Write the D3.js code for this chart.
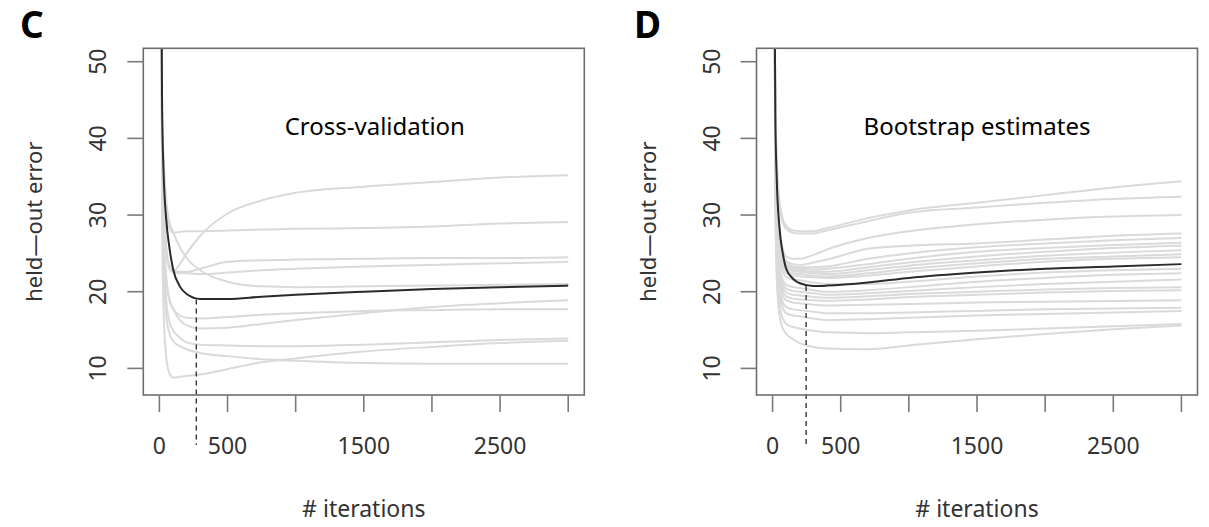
<!DOCTYPE html>
<html>
<head>
<meta charset="utf-8">
<script src="https://cdn.jsdelivr.net/npm/d3@7.9.0/dist/d3.min.js"></script>
<style>
  body { margin: 0; background: #fff; }
  svg { display: block; }
  text { font-family: "Noto Sans", sans-serif; }
</style>
</head>
<body>
<svg id="chart" width="1209" height="527"></svg>
<script>
const cvIter = [12, 20, 30, 50, 75, 100, 150, 200, 300, 500, 750, 1000, 1500, 2000, 2500, 3000];
const bsIter = [12, 20, 30, 50, 75, 100, 150, 200, 300, 400, 700, 1000, 1500, 2000, 2500, 3000];

// panel C: mean CV error (black) and the 10 folds (gray)
const cvMean = [70, 44, 36, 29.5, 25.6, 23.0, 20.7, 19.7, 19.05, 19.05, 19.35, 19.6, 20.0, 20.35, 20.6, 20.8];
const cvFolds = [
  [70, 40, 33, 26, 23.3, 22.7, 23.6, 25.0, 27.3, 30.2, 31.9, 32.9, 33.7, 34.3, 34.9, 35.2],
  [70, 42, 36, 30, 28.3, 27.7, 27.8, 27.9, 27.9, 28.0, 28.1, 28.2, 28.3, 28.5, 28.9, 29.1],
  [70, 40, 32, 25.5, 23.3, 22.7, 22.6, 22.6, 23.0, 23.9, 24.1, 24.2, 24.3, 24.4, 24.4, 24.5],
  [70, 40, 31, 25, 23, 22.5, 22.4, 22.4, 22.3, 22.5, 22.8, 23.0, 23.3, 23.5, 23.7, 23.9],
  [70, 44, 38, 32, 29, 27.8, 25.8, 24.4, 22.8, 21.3, 20.7, 20.6, 20.7, 20.8, 20.9, 21.0],
  [70, 38, 29, 22, 19, 17.8, 16.3, 15.6, 15.2, 15.3, 15.8, 16.3, 17.2, 18.0, 18.5, 18.9],
  [70, 38, 28, 21.5, 18.8, 17.8, 16.9, 16.6, 16.5, 16.7, 17.0, 17.2, 17.5, 17.6, 17.7, 17.7],
  [70, 36, 26, 19, 16, 15.0, 14.0, 13.4, 13.1, 13.0, 12.9, 12.9, 13.1, 13.4, 13.7, 13.9],
  [70, 30, 18, 11.5, 9.3, 8.8, 8.9, 9.0, 9.2, 9.9, 10.8, 11.3, 12.2, 12.8, 13.3, 13.6],
  [70, 34, 24, 17, 14.5, 13.6, 12.9, 12.5, 12.0, 11.6, 11.2, 11.0, 10.7, 10.6, 10.6, 10.6]
];
const cvBest = { iter: 271, err: 19.0 };

// panel D: mean bootstrap estimate (black) and the bootstrap samples (gray)
const bsMean = [70, 43, 35, 28.5, 25, 23, 21.7, 21.1, 20.75, 20.8, 21.2, 21.8, 22.5, 23.0, 23.3, 23.6];
const bsSamples = [
  [70, 45, 38, 32, 29.5, 28.6, 28.0, 27.9, 27.9, 28.3, 29.6, 30.6, 31.6, 32.6, 33.6, 34.4],
  [70, 45, 37, 31.5, 29, 28.2, 27.7, 27.6, 27.6, 28.0, 29.2, 30.3, 31.0, 31.6, 32.1, 32.4],
  [70, 42, 34, 28, 25.5, 24.6, 24.3, 24.3, 24.8, 25.5, 27.0, 27.9, 28.8, 29.4, 29.8, 30.0],
  [70, 42, 33, 27.5, 25, 24.0, 23.6, 23.5, 23.8, 24.2, 25.6, 26.0, 26.3, 26.8, 27.3, 27.6],
  [70, 41, 33, 27, 24.7, 23.8, 23.3, 23.2, 23.2, 23.3, 24.3, 25.0, 25.8, 26.3, 26.7, 27.0],
  [70, 41, 32, 26.5, 24.4, 23.5, 23.1, 23.0, 22.9, 23.0, 23.6, 24.3, 25.2, 25.7, 26.1, 26.4],
  [70, 41, 32, 26.2, 24.1, 23.3, 22.9, 22.8, 22.6, 22.6, 23.2, 23.8, 24.6, 25.2, 25.7, 26.0],
  [70, 40, 31, 26, 23.8, 23.0, 22.7, 22.6, 22.4, 22.3, 22.8, 23.4, 24.1, 24.7, 25.1, 25.4],
  [70, 40, 31, 25.5, 23.5, 22.7, 22.4, 22.3, 22.1, 22.0, 22.4, 23.0, 23.7, 24.3, 24.6, 24.9],
  [70, 40, 30, 25, 23.2, 22.4, 22.1, 22.0, 21.9, 21.8, 22.1, 22.6, 23.3, 23.9, 24.3, 24.5],
  [70, 39, 29.5, 24.5, 22.6, 21.9, 21.6, 21.5, 21.2, 21.0, 21.0, 21.3, 22.0, 22.5, 22.8, 23.0],
  [70, 38, 29, 23.5, 21.6, 20.9, 20.6, 20.5, 20.2, 20.0, 20.2, 20.6, 21.3, 21.8, 22.2, 22.4],
  [70, 38, 28, 23, 21.0, 20.4, 20.1, 20.0, 19.8, 19.6, 19.8, 20.1, 20.6, 21.0, 21.3, 21.6],
  [70, 37, 27.5, 22.5, 20.5, 19.9, 19.6, 19.5, 19.3, 19.2, 19.4, 19.7, 20.0, 20.3, 20.5, 20.6],
  [70, 37, 27, 22, 20.0, 19.4, 19.1, 19.0, 18.9, 18.8, 19.0, 19.3, 19.6, 19.9, 20.1, 20.2],
  [70, 36, 26.5, 21.5, 19.5, 18.9, 18.6, 18.5, 18.3, 18.2, 18.3, 18.4, 18.6, 18.7, 18.8, 18.9],
  [70, 35, 26, 20.5, 18.6, 18.0, 17.7, 17.6, 17.4, 17.2, 17.2, 17.3, 17.5, 17.7, 17.8, 17.9],
  [70, 35, 25, 19.8, 17.9, 17.2, 16.9, 16.8, 16.5, 16.3, 16.4, 16.6, 16.9, 17.1, 17.3, 17.5],
  [70, 34, 24, 18.5, 16.5, 15.8, 15.4, 15.2, 14.9, 14.7, 14.6, 14.7, 14.9, 15.2, 15.5, 15.8],
  [70, 32, 22, 17, 15.2, 14.5, 13.8, 13.3, 12.8, 12.6, 12.5, 13.0, 13.8, 14.5, 15.1, 15.6]
];
const bsBest = { iter: 246, err: 20.75 };

// axis ticks and labels
const xTicks = [0, 500, 1000, 1500, 2000, 2500, 3000];
const xTickLabels = [0, 500, 1500, 2500];
const yTicks = [10, 20, 30, 40, 50];

const svg = d3.select('#chart');

function drawPanel(opts) {
  const box = { left: opts.left, top: 48.3, width: 441, height: 346.7 };
  const g = svg.append('g');

  let x = d3.scaleLinear().domain([-118, 3118]).range([box.left, box.left + box.width]);
  let y = d3.scaleLinear().domain([6.53, 51.75]).range([box.top + box.height, box.top]);

  const clipId = 'clip-' + opts.letter;
  svg.append('clipPath').attr('id', clipId)
    .append('rect')
    .attr('x', box.left).attr('y', box.top)
    .attr('width', box.width).attr('height', box.height);

  let line = d3.line()
    .x((d) => x(d[0]))
    .y((d) => y(d[1]))
    .curve(d3.curveMonotoneX);

  const plot = g.append('g').attr('clip-path', `url(#${clipId})`);

  // gray curves first, then the mean on top
  opts.curves.forEach((vals) => {
    plot.append('path')
      .attr('d', line(opts.iters.map((it, i) => [it, vals[i]])))
      .attr('fill', 'none')
      .attr('stroke', '#dadada')
      .attr('stroke-width', 2);
  });
  plot.append('path')
    .attr('d', line(opts.iters.map((it, i) => [it, opts.mean[i]])))
    .attr('fill', 'none')
    .attr('stroke', '#2b2b2b')
    .attr('stroke-width', 2);

  // dashed marker at the minimum, runs down past the box
  g.append('line')
    .attr('x1', x(opts.best.iter)).attr('x2', x(opts.best.iter))
    .attr('y1', y(opts.best.err)).attr('y2', y(0))
    .attr('stroke', '#333')
    .attr('stroke-width', 1.4)
    .attr('stroke-dasharray', '5,4');

  // frame
  g.append('rect')
    .attr('x', box.left).attr('y', box.top)
    .attr('width', box.width).attr('height', box.height)
    .attr('fill', 'none')
    .attr('stroke', '#6e6e6e')
    .attr('stroke-width', 1.6);

  // x ticks (no axis line, ticks hang off the frame)
  const bottom = box.top + box.height;
  g.selectAll('.xt').data(xTicks).enter().append('line')
    .attr('x1', (d) => x(d)).attr('x2', (d) => x(d))
    .attr('y1', bottom).attr('y2', bottom + 17)
    .attr('stroke', '#7a7a7a').attr('stroke-width', 1.6);
  g.selectAll('.xl').data(xTickLabels).enter().append('text')
    .attr('x', (d) => x(d)).attr('y', bottom + 50)
    .attr('text-anchor', 'middle')
    .attr('dominant-baseline', 'central')
    .attr('font-size', 23)
    .attr('fill', '#333')
    .text((d) => d);

  // y ticks
  g.selectAll('.yt').data(yTicks).enter().append('line')
    .attr('x1', box.left - 16).attr('x2', box.left)
    .attr('y1', (d) => y(d)).attr('y2', (d) => y(d))
    .attr('stroke', '#7a7a7a').attr('stroke-width', 1.6);
  g.selectAll('.yl').data(yTicks).enter().append('text')
    .attr('transform', (d) => `translate(${box.left - 46},${y(d)}) rotate(-90)`)
    .attr('text-anchor', 'middle')
    .attr('dominant-baseline', 'central')
    .attr('font-size', 23)
    .attr('fill', '#333')
    .text((d) => d);

  // axis titles
  g.append('text')
    .attr('x', box.left + box.width / 2).attr('y', 508)
    .attr('text-anchor', 'middle')
    .attr('dominant-baseline', 'central')
    .attr('font-size', 23)
    .attr('fill', '#333')
    .text('# iterations');
  g.append('text')
    .attr('transform', `translate(${box.left - 110},${box.top + box.height / 2}) rotate(-90)`)
    .attr('text-anchor', 'middle')
    .attr('dominant-baseline', 'central')
    .attr('font-size', 22)
    .attr('fill', '#333')
    .text('held\u2014out error');

  // in-plot caption
  g.append('text')
    .attr('x', box.left + box.width / 2 + opts.captionShift).attr('y', 125)
    .attr('text-anchor', 'middle')
    .attr('dominant-baseline', 'central')
    .attr('font-size', 24)
    .attr('fill', '#000')
    .text(opts.caption);

  // panel letter
  g.append('text')
    .attr('x', opts.letterX).attr('y', 23.5)
    .attr('dominant-baseline', 'central')
    .attr('font-family', '"Liberation Sans", Arial, sans-serif')
    .attr('font-weight', 'bold')
    .attr('font-size', 37)
    .attr('fill', '#000')
    .text(opts.letter);
}

drawPanel({
  left: 143.3, letter: 'C', letterX: 20, caption: 'Cross-validation', captionShift: 11,
  iters: cvIter, mean: cvMean, curves: cvFolds, best: cvBest
});
drawPanel({
  left: 756.5, letter: 'D', letterX: 634, caption: 'Bootstrap estimates', captionShift: 0,
  iters: bsIter, mean: bsMean, curves: bsSamples, best: bsBest
});
</script>
</body>
</html>
